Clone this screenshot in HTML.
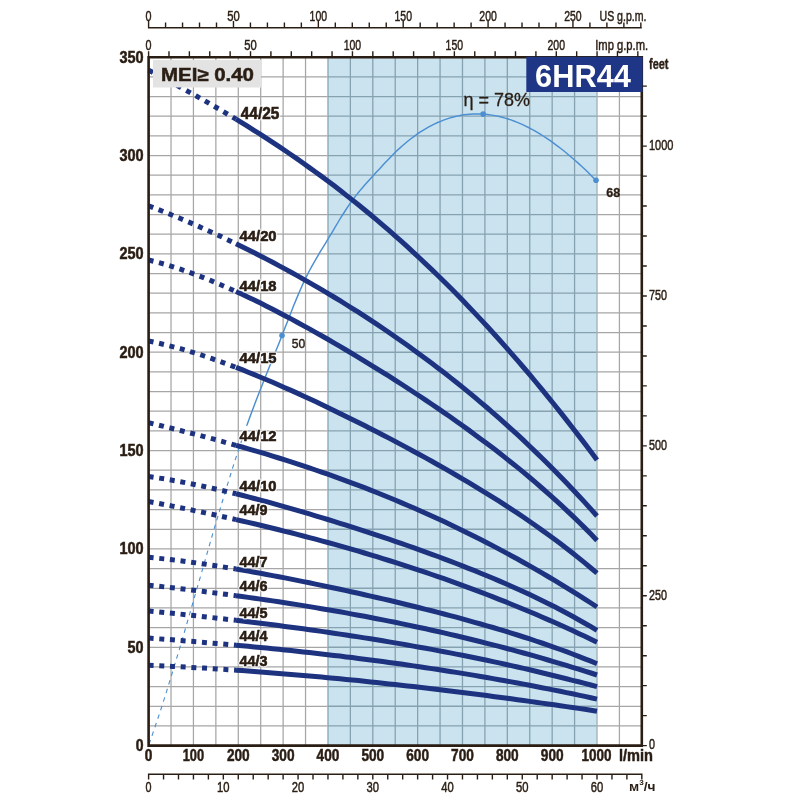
<!DOCTYPE html>
<html><head><meta charset="utf-8"><title>6HR44</title>
<style>html,body{margin:0;padding:0;background:#fff}svg{display:block}</style></head>
<body>
<svg width="800" height="800" viewBox="0 0 800 800" font-family="'Liberation Sans', sans-serif">
<rect width="800" height="800" fill="#fff"/>
<path d="M148.60 57.2V745.6M171.02 57.2V745.6M193.44 57.2V745.6M215.86 57.2V745.6M238.28 57.2V745.6M260.70 57.2V745.6M283.12 57.2V745.6M305.54 57.2V745.6M327.96 57.2V745.6M350.38 57.2V745.6M372.80 57.2V745.6M395.22 57.2V745.6M417.64 57.2V745.6M440.06 57.2V745.6M462.48 57.2V745.6M484.90 57.2V745.6M507.32 57.2V745.6M529.74 57.2V745.6M552.16 57.2V745.6M574.58 57.2V745.6M597.00 57.2V745.6M619.42 57.2V745.6M641.84 57.2V745.6M148.6 745.60H641.8M148.6 725.93H641.8M148.6 706.26H641.8M148.6 686.59H641.8M148.6 666.93H641.8M148.6 647.26H641.8M148.6 627.59H641.8M148.6 607.92H641.8M148.6 588.25H641.8M148.6 568.58H641.8M148.6 548.91H641.8M148.6 529.25H641.8M148.6 509.58H641.8M148.6 489.91H641.8M148.6 470.24H641.8M148.6 450.57H641.8M148.6 430.90H641.8M148.6 411.23H641.8M148.6 391.57H641.8M148.6 371.90H641.8M148.6 352.23H641.8M148.6 332.56H641.8M148.6 312.89H641.8M148.6 293.22H641.8M148.6 273.55H641.8M148.6 253.89H641.8M148.6 234.22H641.8M148.6 214.55H641.8M148.6 194.88H641.8M148.6 175.21H641.8M148.6 155.54H641.8M148.6 135.87H641.8M148.6 116.21H641.8M148.6 96.54H641.8M148.6 76.87H641.8M148.6 57.20H641.8" stroke="#a6a6a6" stroke-width="1.25" fill="none"/>
<clipPath id="bc"><rect x="327.6" y="57.2" width="269.0" height="688.4"/></clipPath>
<rect x="327.6" y="57.2" width="269.0" height="688.4" fill="#cae3ef"/>
<path d="M148.60 57.2V745.6M171.02 57.2V745.6M193.44 57.2V745.6M215.86 57.2V745.6M238.28 57.2V745.6M260.70 57.2V745.6M283.12 57.2V745.6M305.54 57.2V745.6M327.96 57.2V745.6M350.38 57.2V745.6M372.80 57.2V745.6M395.22 57.2V745.6M417.64 57.2V745.6M440.06 57.2V745.6M462.48 57.2V745.6M484.90 57.2V745.6M507.32 57.2V745.6M529.74 57.2V745.6M552.16 57.2V745.6M574.58 57.2V745.6M597.00 57.2V745.6M619.42 57.2V745.6M641.84 57.2V745.6M148.6 745.60H641.8M148.6 725.93H641.8M148.6 706.26H641.8M148.6 686.59H641.8M148.6 666.93H641.8M148.6 647.26H641.8M148.6 627.59H641.8M148.6 607.92H641.8M148.6 588.25H641.8M148.6 568.58H641.8M148.6 548.91H641.8M148.6 529.25H641.8M148.6 509.58H641.8M148.6 489.91H641.8M148.6 470.24H641.8M148.6 450.57H641.8M148.6 430.90H641.8M148.6 411.23H641.8M148.6 391.57H641.8M148.6 371.90H641.8M148.6 352.23H641.8M148.6 332.56H641.8M148.6 312.89H641.8M148.6 293.22H641.8M148.6 273.55H641.8M148.6 253.89H641.8M148.6 234.22H641.8M148.6 214.55H641.8M148.6 194.88H641.8M148.6 175.21H641.8M148.6 155.54H641.8M148.6 135.87H641.8M148.6 116.21H641.8M148.6 96.54H641.8M148.6 76.87H641.8M148.6 57.20H641.8" stroke="#86a2b1" stroke-width="1.3" fill="none" clip-path="url(#bc)"/>
<path d="M149.0 744.3 L151.5 737.2 L154.0 729.9 L156.5 722.5 L159.1 714.9 L161.6 707.2 L164.1 699.3 L166.6 691.3 L169.1 683.2 L171.6 675.0 L174.1 666.7 L176.6 658.4 L179.2 649.9 L181.7 641.4 L184.2 632.8 L186.7 624.2 L189.2 615.5 L191.7 606.8 L194.2 598.1 L196.7 589.3 L199.3 580.5 L201.8 571.8 L204.3 563.1 L206.8 554.3 L209.3 545.7 L211.8 537.0 L214.3 528.4 L216.8 519.9 L219.4 511.4 L221.9 503.0 L224.4 494.7 L226.9 486.4 L229.4 478.3 L231.9 470.3 L234.4 462.4 L236.9 454.6 L239.5 447.0 L242.0 439.5 L244.5 432.2 L247.0 425.0" stroke="#4b8fd2" stroke-width="1.1" stroke-dasharray="4.5 4.5" fill="none"/>
<path d="M247.0 425.0 L249.9 416.9 L252.9 409.0 L255.8 401.2 L258.7 393.7 L261.7 386.2 L264.6 378.8 L267.5 371.5 L270.5 364.3 L273.4 357.0 L276.3 349.8 L279.3 342.4 L282.2 335.0 L285.1 327.5 L288.1 320.0 L291.0 312.5 L293.9 305.1 L296.9 297.9 L299.8 291.0 L302.7 284.4 L305.7 278.1 L308.6 272.3 L311.5 266.8 L314.5 261.6 L317.4 256.6 L320.3 251.7 L323.3 246.9 L326.2 242.1 L329.1 237.2 L332.1 232.3 L335.0 227.4 L337.9 222.5 L340.8 217.7 L343.8 213.0 L346.7 208.5 L349.6 204.1 L352.6 200.0 L355.5 196.1 L358.4 192.5 L361.4 188.9 L364.3 185.6 L367.2 182.3 L370.2 179.0 L373.1 175.8 L376.0 172.6 L379.0 169.4 L381.9 166.2 L384.8 163.1 L387.8 160.0 L390.7 156.9 L393.6 154.0 L396.6 151.1 L399.5 148.4 L402.4 145.7 L405.4 143.2 L408.3 140.8 L411.2 138.5 L414.2 136.3 L417.1 134.2 L420.0 132.2 L423.0 130.3 L425.9 128.6 L428.8 126.9 L431.8 125.3 L434.7 123.9 L437.6 122.5 L440.6 121.3 L443.5 120.1 L446.4 119.1 L449.4 118.1 L452.3 117.3 L455.2 116.5 L458.2 115.9 L461.1 115.3 L464.0 114.8 L467.0 114.5 L469.9 114.2 L472.8 114.0 L475.8 113.9 L478.7 113.9 L481.6 114.0 L484.6 114.2 L487.5 114.5 L490.4 114.9 L493.4 115.4 L496.3 115.9 L499.2 116.5 L502.2 117.3 L505.1 118.1 L508.0 119.0 L510.9 119.9 L513.9 121.0 L516.8 122.2 L519.7 123.4 L522.7 124.7 L525.6 126.1 L528.5 127.5 L531.5 129.1 L534.4 130.7 L537.3 132.4 L540.3 134.2 L543.2 136.0 L546.1 137.9 L549.1 139.9 L552.0 141.9 L554.9 144.1 L557.9 146.3 L560.8 148.5 L563.7 150.8 L566.7 153.2 L569.6 155.7 L572.5 158.2 L575.5 160.7 L578.4 163.4 L581.3 166.0 L584.3 168.8 L587.2 171.6 L590.1 174.5 L593.1 177.4 L596.0 180.3" stroke="#4b8fd2" stroke-width="1.45" fill="none"/>
<circle cx="282" cy="335.5" r="2.8" fill="#4b8fd2"/>
<circle cx="483.1" cy="114.1" r="2.8" fill="#4b8fd2"/>
<circle cx="596" cy="180.3" r="2.8" fill="#4b8fd2"/>
<path d="M148.6 70.1 L156.5 74.3 L164.5 78.5 L172.4 82.8 L180.4 87.2 L188.3 91.6 L196.3 96.0 L204.2 100.5 L212.1 105.1 L220.1 109.7 L228.0 114.4 L236.0 119.2" stroke="#1e3380" stroke-width="5" stroke-dasharray="5 5.7" fill="none"/>
<path d="M236.0 119.2 L242.1 122.9 L248.2 126.7 L254.3 130.6 L260.5 134.4 L266.6 138.4 L272.7 142.4 L278.8 146.4 L284.9 150.5 L291.1 154.7 L297.2 158.9 L303.3 163.2 L309.4 167.6 L315.5 172.0 L321.6 176.4 L327.8 181.0 L333.9 185.6 L340.0 190.3 L346.1 195.1 L352.2 199.9 L358.4 204.8 L364.5 209.8 L370.6 214.8 L376.7 219.9 L382.8 225.1 L389.0 230.4 L395.1 235.8 L401.2 241.2 L407.3 246.7 L413.4 252.3 L419.5 258.0 L425.7 263.8 L431.8 269.6 L437.9 275.5 L444.0 281.5 L450.1 287.6 L456.3 293.8 L462.4 300.1 L468.5 306.4 L474.6 312.9 L480.7 319.4 L486.9 326.0 L493.0 332.7 L499.1 339.5 L505.2 346.3 L511.3 353.3 L517.5 360.4 L523.6 367.5 L529.7 374.7 L535.8 382.0 L541.9 389.4 L548.0 396.9 L554.2 404.5 L560.3 412.1 L566.4 419.9 L572.5 427.7 L578.6 435.6 L584.8 443.6 L590.9 451.7 L597.0 459.9" stroke="#1e3380" stroke-width="5" fill="none"/>
<path d="M148.6 205.8 L156.5 208.9 L164.5 212.0 L172.4 215.2 L180.4 218.5 L188.3 221.9 L196.3 225.3 L204.2 228.9 L212.1 232.5 L220.1 236.1 L228.0 239.9 L236.0 243.7" stroke="#1e3380" stroke-width="5" stroke-dasharray="5 5.7" fill="none"/>
<path d="M236.0 243.7 L242.1 246.7 L248.2 249.7 L254.3 252.8 L260.5 255.9 L266.6 259.1 L272.7 262.3 L278.8 265.6 L284.9 268.9 L291.1 272.2 L297.2 275.6 L303.3 279.1 L309.4 282.6 L315.5 286.1 L321.6 289.7 L327.8 293.3 L333.9 297.0 L340.0 300.7 L346.1 304.5 L352.2 308.4 L358.4 312.2 L364.5 316.2 L370.6 320.2 L376.7 324.2 L382.8 328.3 L389.0 332.5 L395.1 336.7 L401.2 341.0 L407.3 345.3 L413.4 349.7 L419.5 354.2 L425.7 358.7 L431.8 363.2 L437.9 367.9 L444.0 372.6 L450.1 377.4 L456.3 382.2 L462.4 387.1 L468.5 392.1 L474.6 397.2 L480.7 402.3 L486.9 407.5 L493.0 412.8 L499.1 418.2 L505.2 423.6 L511.3 429.1 L517.5 434.7 L523.6 440.4 L529.7 446.2 L535.8 452.1 L541.9 458.0 L548.0 464.1 L554.2 470.2 L560.3 476.5 L566.4 482.8 L572.5 489.2 L578.6 495.8 L584.8 502.4 L590.9 509.2 L597.0 516.0" stroke="#1e3380" stroke-width="5" fill="none"/>
<path d="M148.6 260.0 L156.5 262.0 L164.5 264.2 L172.4 266.6 L180.4 269.2 L188.3 272.0 L196.3 274.9 L204.2 277.9 L212.1 281.1 L220.1 284.5 L228.0 287.9 L236.0 291.5" stroke="#1e3380" stroke-width="5" stroke-dasharray="5 5.7" fill="none"/>
<path d="M236.0 291.5 L242.1 294.3 L248.2 297.2 L254.3 300.1 L260.5 303.1 L266.6 306.2 L272.7 309.3 L278.8 312.5 L284.9 315.7 L291.1 318.9 L297.2 322.2 L303.3 325.6 L309.4 328.9 L315.5 332.4 L321.6 335.8 L327.8 339.3 L333.9 342.8 L340.0 346.4 L346.1 350.0 L352.2 353.7 L358.4 357.3 L364.5 361.1 L370.6 364.8 L376.7 368.6 L382.8 372.4 L389.0 376.2 L395.1 380.1 L401.2 384.0 L407.3 388.0 L413.4 392.0 L419.5 396.0 L425.7 400.1 L431.8 404.2 L437.9 408.4 L444.0 412.6 L450.1 416.8 L456.3 421.2 L462.4 425.5 L468.5 429.9 L474.6 434.4 L480.7 438.9 L486.9 443.5 L493.0 448.1 L499.1 452.8 L505.2 457.6 L511.3 462.5 L517.5 467.4 L523.6 472.4 L529.7 477.5 L535.8 482.7 L541.9 488.0 L548.0 493.4 L554.2 498.8 L560.3 504.4 L566.4 510.1 L572.5 515.9 L578.6 521.8 L584.8 527.9 L590.9 534.1 L597.0 540.4" stroke="#1e3380" stroke-width="5" fill="none"/>
<path d="M148.6 341.0 L156.5 342.7 L164.5 344.6 L172.4 346.6 L180.4 348.7 L188.3 351.0 L196.3 353.4 L204.2 356.0 L212.1 358.7 L220.1 361.5 L228.0 364.4 L236.0 367.4" stroke="#1e3380" stroke-width="5" stroke-dasharray="5 5.7" fill="none"/>
<path d="M236.0 367.4 L242.1 369.7 L248.2 372.2 L254.3 374.6 L260.5 377.2 L266.6 379.7 L272.7 382.3 L278.8 385.0 L284.9 387.7 L291.1 390.4 L297.2 393.1 L303.3 395.9 L309.4 398.8 L315.5 401.6 L321.6 404.5 L327.8 407.4 L333.9 410.4 L340.0 413.4 L346.1 416.4 L352.2 419.4 L358.4 422.5 L364.5 425.5 L370.6 428.7 L376.7 431.8 L382.8 434.9 L389.0 438.1 L395.1 441.4 L401.2 444.6 L407.3 447.9 L413.4 451.2 L419.5 454.5 L425.7 457.9 L431.8 461.3 L437.9 464.7 L444.0 468.2 L450.1 471.7 L456.3 475.2 L462.4 478.8 L468.5 482.4 L474.6 486.1 L480.7 489.8 L486.9 493.6 L493.0 497.4 L499.1 501.2 L505.2 505.2 L511.3 509.2 L517.5 513.2 L523.6 517.3 L529.7 521.5 L535.8 525.8 L541.9 530.1 L548.0 534.5 L554.2 539.0 L560.3 543.6 L566.4 548.3 L572.5 553.0 L578.6 557.9 L584.8 562.9 L590.9 568.0 L597.0 573.2" stroke="#1e3380" stroke-width="5" fill="none"/>
<path d="M148.6 422.7 L156.5 424.6 L164.5 426.6 L172.4 428.5 L180.4 430.5 L188.3 432.5 L196.3 434.5 L204.2 436.6 L212.1 438.7 L220.1 440.9 L228.0 443.1 L236.0 445.3" stroke="#1e3380" stroke-width="5" stroke-dasharray="5 5.7" fill="none"/>
<path d="M236.0 445.3 L242.1 447.0 L248.2 448.8 L254.3 450.6 L260.5 452.4 L266.6 454.2 L272.7 456.1 L278.8 458.0 L284.9 459.9 L291.1 461.9 L297.2 463.8 L303.3 465.9 L309.4 467.9 L315.5 470.0 L321.6 472.1 L327.8 474.2 L333.9 476.4 L340.0 478.6 L346.1 480.8 L352.2 483.1 L358.4 485.4 L364.5 487.7 L370.6 490.1 L376.7 492.5 L382.8 495.0 L389.0 497.5 L395.1 500.0 L401.2 502.6 L407.3 505.2 L413.4 507.8 L419.5 510.5 L425.7 513.2 L431.8 516.0 L437.9 518.8 L444.0 521.6 L450.1 524.5 L456.3 527.4 L462.4 530.4 L468.5 533.4 L474.6 536.5 L480.7 539.5 L486.9 542.7 L493.0 545.9 L499.1 549.1 L505.2 552.4 L511.3 555.7 L517.5 559.0 L523.6 562.5 L529.7 565.9 L535.8 569.4 L541.9 572.9 L548.0 576.5 L554.2 580.2 L560.3 583.9 L566.4 587.6 L572.5 591.4 L578.6 595.2 L584.8 599.1 L590.9 603.0 L597.0 607.0" stroke="#1e3380" stroke-width="5" fill="none"/>
<path d="M148.6 476.6 L156.5 477.7 L164.5 478.9 L172.4 480.3 L180.4 481.7 L188.3 483.2 L196.3 484.8 L204.2 486.5 L212.1 488.2 L220.1 490.0 L228.0 491.9 L236.0 493.8" stroke="#1e3380" stroke-width="5" stroke-dasharray="5 5.7" fill="none"/>
<path d="M236.0 493.8 L242.1 495.3 L248.2 496.9 L254.3 498.5 L260.5 500.1 L266.6 501.7 L272.7 503.4 L278.8 505.1 L284.9 506.8 L291.1 508.6 L297.2 510.3 L303.3 512.1 L309.4 513.9 L315.5 515.8 L321.6 517.6 L327.8 519.5 L333.9 521.4 L340.0 523.3 L346.1 525.2 L352.2 527.2 L358.4 529.1 L364.5 531.1 L370.6 533.1 L376.7 535.1 L382.8 537.2 L389.0 539.2 L395.1 541.3 L401.2 543.4 L407.3 545.5 L413.4 547.7 L419.5 549.9 L425.7 552.1 L431.8 554.3 L437.9 556.5 L444.0 558.8 L450.1 561.1 L456.3 563.5 L462.4 565.9 L468.5 568.3 L474.6 570.7 L480.7 573.2 L486.9 575.7 L493.0 578.3 L499.1 580.9 L505.2 583.5 L511.3 586.2 L517.5 589.0 L523.6 591.8 L529.7 594.6 L535.8 597.5 L541.9 600.5 L548.0 603.5 L554.2 606.6 L560.3 609.8 L566.4 613.0 L572.5 616.3 L578.6 619.7 L584.8 623.2 L590.9 626.7 L597.0 630.4" stroke="#1e3380" stroke-width="5" fill="none"/>
<path d="M148.6 501.5 L156.5 503.0 L164.5 504.6 L172.4 506.1 L180.4 507.7 L188.3 509.3 L196.3 511.0 L204.2 512.6 L212.1 514.3 L220.1 516.1 L228.0 517.8 L236.0 519.6" stroke="#1e3380" stroke-width="5" stroke-dasharray="5 5.7" fill="none"/>
<path d="M236.0 519.6 L242.1 521.0 L248.2 522.4 L254.3 523.8 L260.5 525.3 L266.6 526.8 L272.7 528.2 L278.8 529.7 L284.9 531.3 L291.1 532.8 L297.2 534.4 L303.3 536.0 L309.4 537.6 L315.5 539.2 L321.6 540.8 L327.8 542.5 L333.9 544.2 L340.0 545.9 L346.1 547.7 L352.2 549.4 L358.4 551.2 L364.5 553.0 L370.6 554.8 L376.7 556.7 L382.8 558.6 L389.0 560.5 L395.1 562.4 L401.2 564.3 L407.3 566.3 L413.4 568.3 L419.5 570.3 L425.7 572.4 L431.8 574.5 L437.9 576.6 L444.0 578.7 L450.1 580.9 L456.3 583.1 L462.4 585.3 L468.5 587.6 L474.6 589.8 L480.7 592.1 L486.9 594.5 L493.0 596.9 L499.1 599.3 L505.2 601.7 L511.3 604.2 L517.5 606.7 L523.6 609.2 L529.7 611.7 L535.8 614.3 L541.9 617.0 L548.0 619.6 L554.2 622.3 L560.3 625.1 L566.4 627.8 L572.5 630.6 L578.6 633.5 L584.8 636.3 L590.9 639.3 L597.0 642.2" stroke="#1e3380" stroke-width="5" fill="none"/>
<path d="M148.6 557.3 L156.5 558.1 L164.5 558.9 L172.4 559.8 L180.4 560.8 L188.3 561.8 L196.3 562.9 L204.2 564.0 L212.1 565.2 L220.1 566.4 L228.0 567.7 L236.0 569.0" stroke="#1e3380" stroke-width="5" stroke-dasharray="5 5.7" fill="none"/>
<path d="M236.0 569.0 L242.1 570.1 L248.2 571.1 L254.3 572.2 L260.5 573.3 L266.6 574.5 L272.7 575.6 L278.8 576.8 L284.9 577.9 L291.1 579.1 L297.2 580.4 L303.3 581.6 L309.4 582.8 L315.5 584.1 L321.6 585.4 L327.8 586.7 L333.9 588.0 L340.0 589.3 L346.1 590.6 L352.2 592.0 L358.4 593.3 L364.5 594.7 L370.6 596.1 L376.7 597.5 L382.8 598.9 L389.0 600.3 L395.1 601.8 L401.2 603.2 L407.3 604.7 L413.4 606.2 L419.5 607.7 L425.7 609.3 L431.8 610.8 L437.9 612.4 L444.0 614.0 L450.1 615.6 L456.3 617.2 L462.4 618.9 L468.5 620.6 L474.6 622.3 L480.7 624.0 L486.9 625.8 L493.0 627.5 L499.1 629.4 L505.2 631.2 L511.3 633.1 L517.5 635.0 L523.6 637.0 L529.7 638.9 L535.8 641.0 L541.9 643.0 L548.0 645.1 L554.2 647.3 L560.3 649.5 L566.4 651.7 L572.5 654.0 L578.6 656.4 L584.8 658.8 L590.9 661.2 L597.0 663.7" stroke="#1e3380" stroke-width="5" fill="none"/>
<path d="M148.6 585.2 L156.5 586.0 L164.5 586.9 L172.4 587.8 L180.4 588.7 L188.3 589.6 L196.3 590.6 L204.2 591.6 L212.1 592.6 L220.1 593.6 L228.0 594.6 L236.0 595.7" stroke="#1e3380" stroke-width="5" stroke-dasharray="5 5.7" fill="none"/>
<path d="M236.0 595.7 L242.1 596.5 L248.2 597.4 L254.3 598.2 L260.5 599.1 L266.6 600.0 L272.7 600.9 L278.8 601.8 L284.9 602.7 L291.1 603.7 L297.2 604.6 L303.3 605.6 L309.4 606.6 L315.5 607.6 L321.6 608.7 L327.8 609.7 L333.9 610.8 L340.0 611.8 L346.1 612.9 L352.2 614.1 L358.4 615.2 L364.5 616.3 L370.6 617.5 L376.7 618.7 L382.8 619.9 L389.0 621.1 L395.1 622.3 L401.2 623.6 L407.3 624.9 L413.4 626.2 L419.5 627.5 L425.7 628.8 L431.8 630.2 L437.9 631.5 L444.0 632.9 L450.1 634.4 L456.3 635.8 L462.4 637.2 L468.5 638.7 L474.6 640.2 L480.7 641.7 L486.9 643.3 L493.0 644.9 L499.1 646.4 L505.2 648.0 L511.3 649.7 L517.5 651.3 L523.6 653.0 L529.7 654.7 L535.8 656.4 L541.9 658.2 L548.0 660.0 L554.2 661.8 L560.3 663.6 L566.4 665.4 L572.5 667.3 L578.6 669.2 L584.8 671.1 L590.9 673.0 L597.0 675.0" stroke="#1e3380" stroke-width="5" fill="none"/>
<path d="M148.6 610.9 L156.5 611.7 L164.5 612.5 L172.4 613.3 L180.4 614.1 L188.3 615.0 L196.3 615.8 L204.2 616.7 L212.1 617.6 L220.1 618.5 L228.0 619.4 L236.0 620.3" stroke="#1e3380" stroke-width="5" stroke-dasharray="5 5.7" fill="none"/>
<path d="M236.0 620.3 L242.1 621.0 L248.2 621.8 L254.3 622.5 L260.5 623.3 L266.6 624.0 L272.7 624.8 L278.8 625.6 L284.9 626.4 L291.1 627.2 L297.2 628.0 L303.3 628.8 L309.4 629.7 L315.5 630.5 L321.6 631.4 L327.8 632.3 L333.9 633.2 L340.0 634.1 L346.1 635.0 L352.2 636.0 L358.4 636.9 L364.5 637.9 L370.6 638.8 L376.7 639.8 L382.8 640.8 L389.0 641.9 L395.1 642.9 L401.2 643.9 L407.3 645.0 L413.4 646.1 L419.5 647.2 L425.7 648.3 L431.8 649.4 L437.9 650.6 L444.0 651.7 L450.1 652.9 L456.3 654.1 L462.4 655.3 L468.5 656.5 L474.6 657.8 L480.7 659.0 L486.9 660.3 L493.0 661.6 L499.1 662.9 L505.2 664.3 L511.3 665.6 L517.5 667.0 L523.6 668.4 L529.7 669.8 L535.8 671.2 L541.9 672.7 L548.0 674.2 L554.2 675.7 L560.3 677.2 L566.4 678.7 L572.5 680.3 L578.6 681.8 L584.8 683.4 L590.9 685.0 L597.0 686.7" stroke="#1e3380" stroke-width="5" fill="none"/>
<path d="M148.6 638.1 L156.5 638.7 L164.5 639.2 L172.4 639.8 L180.4 640.5 L188.3 641.1 L196.3 641.7 L204.2 642.4 L212.1 643.1 L220.1 643.7 L228.0 644.4 L236.0 645.2" stroke="#1e3380" stroke-width="5" stroke-dasharray="5 5.7" fill="none"/>
<path d="M236.0 645.2 L242.1 645.7 L248.2 646.3 L254.3 646.9 L260.5 647.5 L266.6 648.1 L272.7 648.7 L278.8 649.3 L284.9 649.9 L291.1 650.6 L297.2 651.2 L303.3 651.9 L309.4 652.6 L315.5 653.3 L321.6 654.0 L327.8 654.7 L333.9 655.4 L340.0 656.1 L346.1 656.9 L352.2 657.6 L358.4 658.4 L364.5 659.2 L370.6 660.0 L376.7 660.8 L382.8 661.6 L389.0 662.4 L395.1 663.3 L401.2 664.1 L407.3 665.0 L413.4 665.9 L419.5 666.8 L425.7 667.7 L431.8 668.6 L437.9 669.5 L444.0 670.5 L450.1 671.5 L456.3 672.4 L462.4 673.4 L468.5 674.4 L474.6 675.4 L480.7 676.5 L486.9 677.5 L493.0 678.6 L499.1 679.7 L505.2 680.8 L511.3 681.9 L517.5 683.0 L523.6 684.1 L529.7 685.3 L535.8 686.5 L541.9 687.7 L548.0 688.9 L554.2 690.1 L560.3 691.3 L566.4 692.6 L572.5 693.8 L578.6 695.1 L584.8 696.4 L590.9 697.7 L597.0 699.1" stroke="#1e3380" stroke-width="5" fill="none"/>
<path d="M148.6 665.3 L156.5 665.6 L164.5 666.0 L172.4 666.4 L180.4 666.8 L188.3 667.2 L196.3 667.7 L204.2 668.1 L212.1 668.6 L220.1 669.1 L228.0 669.7 L236.0 670.2" stroke="#1e3380" stroke-width="5" stroke-dasharray="5 5.7" fill="none"/>
<path d="M236.0 670.2 L242.1 670.6 L248.2 671.1 L254.3 671.5 L260.5 672.0 L266.6 672.4 L272.7 672.9 L278.8 673.4 L284.9 673.9 L291.1 674.4 L297.2 674.9 L303.3 675.5 L309.4 676.0 L315.5 676.5 L321.6 677.1 L327.8 677.7 L333.9 678.2 L340.0 678.8 L346.1 679.4 L352.2 680.0 L358.4 680.6 L364.5 681.3 L370.6 681.9 L376.7 682.5 L382.8 683.2 L389.0 683.9 L395.1 684.5 L401.2 685.2 L407.3 685.9 L413.4 686.6 L419.5 687.3 L425.7 688.0 L431.8 688.7 L437.9 689.4 L444.0 690.2 L450.1 690.9 L456.3 691.7 L462.4 692.4 L468.5 693.2 L474.6 694.0 L480.7 694.8 L486.9 695.6 L493.0 696.4 L499.1 697.2 L505.2 698.0 L511.3 698.8 L517.5 699.7 L523.6 700.5 L529.7 701.4 L535.8 702.2 L541.9 703.1 L548.0 703.9 L554.2 704.8 L560.3 705.7 L566.4 706.6 L572.5 707.5 L578.6 708.4 L584.8 709.3 L590.9 710.2 L597.0 711.2" stroke="#1e3380" stroke-width="5" fill="none"/>
<path d="M148.6 57.2V745.6H641.8V57.2Z" stroke="#2a1e14" stroke-width="2.6" fill="none"/>
<rect x="153" y="60" width="108" height="27.5" fill="#e3e3e3"/>
<text x="161" y="81.3" font-size="18.5" font-weight="bold" fill="#2a1e14" stroke="#2a1e14" stroke-width="0.5" textLength="93" lengthAdjust="spacingAndGlyphs">MEI≥ 0.40</text>
<rect x="526.3" y="56.8" width="116.3" height="35.2" fill="#1f3585"/>
<text x="535" y="86.8" font-size="31.6" font-weight="bold" fill="#fff" textLength="96" lengthAdjust="spacingAndGlyphs">6HR44</text>
<text x="240.8" y="118.8" font-size="16" font-weight="bold" text-anchor="start" fill="#2a1e14" textLength="38.5" lengthAdjust="spacingAndGlyphs" stroke="#fff" stroke-width="3" stroke-opacity="0.75" stroke-linejoin="round">44/25</text>
<text x="240.8" y="118.8" font-size="16" font-weight="bold" text-anchor="start" fill="#2a1e14" textLength="38.5" lengthAdjust="spacingAndGlyphs" stroke="#2a1e14" stroke-width="0.6">44/25</text>
<text x="239.6" y="241.3" font-size="15.3" font-weight="bold" text-anchor="start" fill="#2a1e14" textLength="37" lengthAdjust="spacingAndGlyphs" stroke="#fff" stroke-width="3" stroke-opacity="0.75" stroke-linejoin="round">44/20</text>
<text x="239.6" y="241.3" font-size="15.3" font-weight="bold" text-anchor="start" fill="#2a1e14" textLength="37" lengthAdjust="spacingAndGlyphs" stroke="#2a1e14" stroke-width="0.6">44/20</text>
<text x="239.6" y="291.0" font-size="15.3" font-weight="bold" text-anchor="start" fill="#2a1e14" textLength="37" lengthAdjust="spacingAndGlyphs" stroke="#fff" stroke-width="3" stroke-opacity="0.75" stroke-linejoin="round">44/18</text>
<text x="239.6" y="291.0" font-size="15.3" font-weight="bold" text-anchor="start" fill="#2a1e14" textLength="37" lengthAdjust="spacingAndGlyphs" stroke="#2a1e14" stroke-width="0.6">44/18</text>
<text x="239.6" y="363.0" font-size="15.3" font-weight="bold" text-anchor="start" fill="#2a1e14" textLength="37" lengthAdjust="spacingAndGlyphs" stroke="#fff" stroke-width="3" stroke-opacity="0.75" stroke-linejoin="round">44/15</text>
<text x="239.6" y="363.0" font-size="15.3" font-weight="bold" text-anchor="start" fill="#2a1e14" textLength="37" lengthAdjust="spacingAndGlyphs" stroke="#2a1e14" stroke-width="0.6">44/15</text>
<text x="239.6" y="440.5" font-size="15.3" font-weight="bold" text-anchor="start" fill="#2a1e14" textLength="37" lengthAdjust="spacingAndGlyphs" stroke="#fff" stroke-width="3" stroke-opacity="0.75" stroke-linejoin="round">44/12</text>
<text x="239.6" y="440.5" font-size="15.3" font-weight="bold" text-anchor="start" fill="#2a1e14" textLength="37" lengthAdjust="spacingAndGlyphs" stroke="#2a1e14" stroke-width="0.6">44/12</text>
<text x="239.6" y="490.8" font-size="15.3" font-weight="bold" text-anchor="start" fill="#2a1e14" textLength="37" lengthAdjust="spacingAndGlyphs" stroke="#fff" stroke-width="3" stroke-opacity="0.75" stroke-linejoin="round">44/10</text>
<text x="239.6" y="490.8" font-size="15.3" font-weight="bold" text-anchor="start" fill="#2a1e14" textLength="37" lengthAdjust="spacingAndGlyphs" stroke="#2a1e14" stroke-width="0.6">44/10</text>
<text x="239.6" y="515.0" font-size="15.3" font-weight="bold" text-anchor="start" fill="#2a1e14" textLength="28" lengthAdjust="spacingAndGlyphs" stroke="#fff" stroke-width="3" stroke-opacity="0.75" stroke-linejoin="round">44/9</text>
<text x="239.6" y="515.0" font-size="15.3" font-weight="bold" text-anchor="start" fill="#2a1e14" textLength="28" lengthAdjust="spacingAndGlyphs" stroke="#2a1e14" stroke-width="0.6">44/9</text>
<text x="239.6" y="567.0" font-size="15.3" font-weight="bold" text-anchor="start" fill="#2a1e14" textLength="28" lengthAdjust="spacingAndGlyphs" stroke="#fff" stroke-width="3" stroke-opacity="0.75" stroke-linejoin="round">44/7</text>
<text x="239.6" y="567.0" font-size="15.3" font-weight="bold" text-anchor="start" fill="#2a1e14" textLength="28" lengthAdjust="spacingAndGlyphs" stroke="#2a1e14" stroke-width="0.6">44/7</text>
<text x="239.6" y="591.2" font-size="15.3" font-weight="bold" text-anchor="start" fill="#2a1e14" textLength="28" lengthAdjust="spacingAndGlyphs" stroke="#fff" stroke-width="3" stroke-opacity="0.75" stroke-linejoin="round">44/6</text>
<text x="239.6" y="591.2" font-size="15.3" font-weight="bold" text-anchor="start" fill="#2a1e14" textLength="28" lengthAdjust="spacingAndGlyphs" stroke="#2a1e14" stroke-width="0.6">44/6</text>
<text x="239.6" y="617.5" font-size="15.3" font-weight="bold" text-anchor="start" fill="#2a1e14" textLength="28" lengthAdjust="spacingAndGlyphs" stroke="#fff" stroke-width="3" stroke-opacity="0.75" stroke-linejoin="round">44/5</text>
<text x="239.6" y="617.5" font-size="15.3" font-weight="bold" text-anchor="start" fill="#2a1e14" textLength="28" lengthAdjust="spacingAndGlyphs" stroke="#2a1e14" stroke-width="0.6">44/5</text>
<text x="239.6" y="640.8" font-size="15.3" font-weight="bold" text-anchor="start" fill="#2a1e14" textLength="28" lengthAdjust="spacingAndGlyphs" stroke="#fff" stroke-width="3" stroke-opacity="0.75" stroke-linejoin="round">44/4</text>
<text x="239.6" y="640.8" font-size="15.3" font-weight="bold" text-anchor="start" fill="#2a1e14" textLength="28" lengthAdjust="spacingAndGlyphs" stroke="#2a1e14" stroke-width="0.6">44/4</text>
<text x="239.6" y="665.5" font-size="15.3" font-weight="bold" text-anchor="start" fill="#2a1e14" textLength="28" lengthAdjust="spacingAndGlyphs" stroke="#fff" stroke-width="3" stroke-opacity="0.75" stroke-linejoin="round">44/3</text>
<text x="239.6" y="665.5" font-size="15.3" font-weight="bold" text-anchor="start" fill="#2a1e14" textLength="28" lengthAdjust="spacingAndGlyphs" stroke="#2a1e14" stroke-width="0.6">44/3</text>
<text x="135.8" y="751.1" font-size="15.6" font-weight="bold" text-anchor="start" fill="#2a1e14" textLength="7.8" lengthAdjust="spacingAndGlyphs" stroke="#2a1e14" stroke-width="0.5">0</text>
<text x="127.6" y="652.8" font-size="15.6" font-weight="bold" text-anchor="start" fill="#2a1e14" textLength="16" lengthAdjust="spacingAndGlyphs" stroke="#2a1e14" stroke-width="0.5">50</text>
<text x="119.4" y="554.4" font-size="15.6" font-weight="bold" text-anchor="start" fill="#2a1e14" textLength="24.2" lengthAdjust="spacingAndGlyphs" stroke="#2a1e14" stroke-width="0.5">100</text>
<text x="119.4" y="456.1" font-size="15.6" font-weight="bold" text-anchor="start" fill="#2a1e14" textLength="24.2" lengthAdjust="spacingAndGlyphs" stroke="#2a1e14" stroke-width="0.5">150</text>
<text x="119.4" y="357.7" font-size="15.6" font-weight="bold" text-anchor="start" fill="#2a1e14" textLength="24.2" lengthAdjust="spacingAndGlyphs" stroke="#2a1e14" stroke-width="0.5">200</text>
<text x="119.4" y="259.4" font-size="15.6" font-weight="bold" text-anchor="start" fill="#2a1e14" textLength="24.2" lengthAdjust="spacingAndGlyphs" stroke="#2a1e14" stroke-width="0.5">250</text>
<text x="119.4" y="161.0" font-size="15.6" font-weight="bold" text-anchor="start" fill="#2a1e14" textLength="24.2" lengthAdjust="spacingAndGlyphs" stroke="#2a1e14" stroke-width="0.5">300</text>
<text x="119.4" y="62.7" font-size="15.6" font-weight="bold" text-anchor="start" fill="#2a1e14" textLength="24.2" lengthAdjust="spacingAndGlyphs" stroke="#2a1e14" stroke-width="0.5">350</text>
<text x="144.8" y="761.1" font-size="15.6" font-weight="bold" text-anchor="start" fill="#2a1e14" textLength="7.6" lengthAdjust="spacingAndGlyphs" stroke="#2a1e14" stroke-width="0.5">0</text>
<text x="182.7" y="761.1" font-size="15.6" font-weight="bold" text-anchor="start" fill="#2a1e14" textLength="21.4" lengthAdjust="spacingAndGlyphs" stroke="#2a1e14" stroke-width="0.5">100</text>
<text x="226.9" y="761.1" font-size="15.6" font-weight="bold" text-anchor="start" fill="#2a1e14" textLength="22.8" lengthAdjust="spacingAndGlyphs" stroke="#2a1e14" stroke-width="0.5">200</text>
<text x="271.7" y="761.1" font-size="15.6" font-weight="bold" text-anchor="start" fill="#2a1e14" textLength="22.8" lengthAdjust="spacingAndGlyphs" stroke="#2a1e14" stroke-width="0.5">300</text>
<text x="316.6" y="761.1" font-size="15.6" font-weight="bold" text-anchor="start" fill="#2a1e14" textLength="22.8" lengthAdjust="spacingAndGlyphs" stroke="#2a1e14" stroke-width="0.5">400</text>
<text x="361.4" y="761.1" font-size="15.6" font-weight="bold" text-anchor="start" fill="#2a1e14" textLength="22.8" lengthAdjust="spacingAndGlyphs" stroke="#2a1e14" stroke-width="0.5">500</text>
<text x="406.2" y="761.1" font-size="15.6" font-weight="bold" text-anchor="start" fill="#2a1e14" textLength="22.8" lengthAdjust="spacingAndGlyphs" stroke="#2a1e14" stroke-width="0.5">600</text>
<text x="451.1" y="761.1" font-size="15.6" font-weight="bold" text-anchor="start" fill="#2a1e14" textLength="22.8" lengthAdjust="spacingAndGlyphs" stroke="#2a1e14" stroke-width="0.5">700</text>
<text x="495.9" y="761.1" font-size="15.6" font-weight="bold" text-anchor="start" fill="#2a1e14" textLength="22.8" lengthAdjust="spacingAndGlyphs" stroke="#2a1e14" stroke-width="0.5">800</text>
<text x="540.8" y="761.1" font-size="15.6" font-weight="bold" text-anchor="start" fill="#2a1e14" textLength="22.8" lengthAdjust="spacingAndGlyphs" stroke="#2a1e14" stroke-width="0.5">900</text>
<text x="581.5" y="761.1" font-size="15.6" font-weight="bold" text-anchor="start" fill="#2a1e14" textLength="30" lengthAdjust="spacingAndGlyphs" stroke="#2a1e14" stroke-width="0.5">1000</text>
<text x="619.0" y="761.1" font-size="15.6" font-weight="bold" text-anchor="start" fill="#2a1e14" textLength="34" lengthAdjust="spacingAndGlyphs" stroke="#2a1e14" stroke-width="0.5">l/min</text>
<path d="M641.8 745.60h5M641.8 715.63h5M641.8 685.65h5M641.8 655.68h5M641.8 625.70h5M641.8 595.73h5M641.8 565.75h5M641.8 535.78h5M641.8 505.80h5M641.8 475.83h5M641.8 445.85h5M641.8 415.88h5M641.8 385.90h5M641.8 355.93h5M641.8 325.95h5M641.8 295.98h5M641.8 266.00h5M641.8 236.03h5M641.8 206.05h5M641.8 176.08h5M641.8 146.10h5M641.8 116.13h5M641.8 86.15h5" stroke="#2a1e14" stroke-width="1.4" fill="none"/>
<text x="649.0" y="749.4" font-size="14.6" font-weight="normal" text-anchor="start" fill="#2a1e14" textLength="6" lengthAdjust="spacingAndGlyphs" stroke="#2a1e14" stroke-width="0.5">0</text>
<text x="649.0" y="599.5" font-size="14.6" font-weight="normal" text-anchor="start" fill="#2a1e14" textLength="18" lengthAdjust="spacingAndGlyphs" stroke="#2a1e14" stroke-width="0.5">250</text>
<text x="649.0" y="449.7" font-size="14.6" font-weight="normal" text-anchor="start" fill="#2a1e14" textLength="18" lengthAdjust="spacingAndGlyphs" stroke="#2a1e14" stroke-width="0.5">500</text>
<text x="649.0" y="299.8" font-size="14.6" font-weight="normal" text-anchor="start" fill="#2a1e14" textLength="18" lengthAdjust="spacingAndGlyphs" stroke="#2a1e14" stroke-width="0.5">750</text>
<text x="649.0" y="149.9" font-size="14.6" font-weight="normal" text-anchor="start" fill="#2a1e14" textLength="24.5" lengthAdjust="spacingAndGlyphs" stroke="#2a1e14" stroke-width="0.5">1000</text>
<text x="649.0" y="69.0" font-size="14" font-weight="bold" text-anchor="start" fill="#2a1e14" textLength="19.5" lengthAdjust="spacingAndGlyphs" stroke="#2a1e14" stroke-width="0.4">feet</text>
<path d="M148.6 27.7H641.8M148.60 28.4v-7.5M165.57 28.4v-6M182.55 28.4v-6M199.52 28.4v-6M216.50 28.4v-6M233.47 28.4v-7.5M250.44 28.4v-6M267.42 28.4v-6M284.39 28.4v-6M301.36 28.4v-6M318.34 28.4v-7.5M335.31 28.4v-6M352.29 28.4v-6M369.26 28.4v-6M386.23 28.4v-6M403.21 28.4v-7.5M420.18 28.4v-6M437.15 28.4v-6M454.13 28.4v-6M471.10 28.4v-6M488.08 28.4v-7.5M505.05 28.4v-6M522.02 28.4v-6M539.00 28.4v-6M555.97 28.4v-6M572.94 28.4v-7.5M589.92 28.4v-6M606.89 28.4v-6M623.87 28.4v-6M640.84 28.4v-6" stroke="#2a1e14" stroke-width="1.4" fill="none"/>
<text x="145.6" y="21.3" font-size="14.6" font-weight="normal" text-anchor="start" fill="#2a1e14" textLength="6" lengthAdjust="spacingAndGlyphs" stroke="#2a1e14" stroke-width="0.5">0</text>
<text x="227.2" y="21.3" font-size="14.6" font-weight="normal" text-anchor="start" fill="#2a1e14" textLength="12.5" lengthAdjust="spacingAndGlyphs" stroke="#2a1e14" stroke-width="0.5">50</text>
<text x="309.6" y="21.3" font-size="14.6" font-weight="normal" text-anchor="start" fill="#2a1e14" textLength="17.5" lengthAdjust="spacingAndGlyphs" stroke="#2a1e14" stroke-width="0.5">100</text>
<text x="394.5" y="21.3" font-size="14.6" font-weight="normal" text-anchor="start" fill="#2a1e14" textLength="17.5" lengthAdjust="spacingAndGlyphs" stroke="#2a1e14" stroke-width="0.5">150</text>
<text x="479.3" y="21.3" font-size="14.6" font-weight="normal" text-anchor="start" fill="#2a1e14" textLength="17.5" lengthAdjust="spacingAndGlyphs" stroke="#2a1e14" stroke-width="0.5">200</text>
<text x="564.2" y="21.3" font-size="14.6" font-weight="normal" text-anchor="start" fill="#2a1e14" textLength="17.5" lengthAdjust="spacingAndGlyphs" stroke="#2a1e14" stroke-width="0.5">250</text>
<text x="599.5" y="21.3" font-size="14.6" font-weight="normal" text-anchor="start" fill="#2a1e14" textLength="47" lengthAdjust="spacingAndGlyphs" stroke="#2a1e14" stroke-width="0.5">US g.p.m.</text>
<path d="M148.60 57.2v-6M168.98 57.2v-6M189.37 57.2v-6M209.75 57.2v-6M230.14 57.2v-6M250.52 57.2v-6M270.91 57.2v-6M291.29 57.2v-6M311.68 57.2v-6M332.06 57.2v-6M352.45 57.2v-6M372.83 57.2v-6M393.22 57.2v-6M413.60 57.2v-6M433.99 57.2v-6M454.37 57.2v-6M474.75 57.2v-6M495.14 57.2v-6M515.52 57.2v-6M535.91 57.2v-6M556.29 57.2v-6M576.68 57.2v-6M597.06 57.2v-6M617.45 57.2v-6M637.83 57.2v-6" stroke="#2a1e14" stroke-width="1.4" fill="none"/>
<text x="145.6" y="49.8" font-size="14.6" font-weight="normal" text-anchor="start" fill="#2a1e14" textLength="6" lengthAdjust="spacingAndGlyphs" stroke="#2a1e14" stroke-width="0.5">0</text>
<text x="244.3" y="49.8" font-size="14.6" font-weight="normal" text-anchor="start" fill="#2a1e14" textLength="12.5" lengthAdjust="spacingAndGlyphs" stroke="#2a1e14" stroke-width="0.5">50</text>
<text x="343.7" y="49.8" font-size="14.6" font-weight="normal" text-anchor="start" fill="#2a1e14" textLength="17.5" lengthAdjust="spacingAndGlyphs" stroke="#2a1e14" stroke-width="0.5">100</text>
<text x="445.6" y="49.8" font-size="14.6" font-weight="normal" text-anchor="start" fill="#2a1e14" textLength="17.5" lengthAdjust="spacingAndGlyphs" stroke="#2a1e14" stroke-width="0.5">150</text>
<text x="547.5" y="49.8" font-size="14.6" font-weight="normal" text-anchor="start" fill="#2a1e14" textLength="17.5" lengthAdjust="spacingAndGlyphs" stroke="#2a1e14" stroke-width="0.5">200</text>
<text x="595.2" y="49.8" font-size="14.6" font-weight="normal" text-anchor="start" fill="#2a1e14" textLength="53" lengthAdjust="spacingAndGlyphs" stroke="#2a1e14" stroke-width="0.5">Imp g.p.m.</text>
<path d="M148.6 774.3H641.8M148.60 773.5999999999999v6M163.55 773.5999999999999v6M178.49 773.5999999999999v6M193.44 773.5999999999999v6M208.39 773.5999999999999v6M223.33 773.5999999999999v6M238.28 773.5999999999999v6M253.23 773.5999999999999v6M268.17 773.5999999999999v6M283.12 773.5999999999999v6M298.07 773.5999999999999v6M313.01 773.5999999999999v6M327.96 773.5999999999999v6M342.91 773.5999999999999v6M357.85 773.5999999999999v6M372.80 773.5999999999999v6M387.75 773.5999999999999v6M402.69 773.5999999999999v6M417.64 773.5999999999999v6M432.59 773.5999999999999v6M447.53 773.5999999999999v6M462.48 773.5999999999999v6M477.43 773.5999999999999v6M492.37 773.5999999999999v6M507.32 773.5999999999999v6M522.27 773.5999999999999v6M537.21 773.5999999999999v6M552.16 773.5999999999999v6M567.11 773.5999999999999v6M582.05 773.5999999999999v6M597.00 773.5999999999999v6M611.95 773.5999999999999v6M626.89 773.5999999999999v6M641.84 773.5999999999999v6M641.8 773.5999999999999v6" stroke="#2a1e14" stroke-width="1.4" fill="none"/>
<text x="145.6" y="792.0" font-size="14.6" font-weight="normal" text-anchor="start" fill="#2a1e14" textLength="6" lengthAdjust="spacingAndGlyphs" stroke="#2a1e14" stroke-width="0.5">0</text>
<text x="217.1" y="792.0" font-size="14.6" font-weight="normal" text-anchor="start" fill="#2a1e14" textLength="12.5" lengthAdjust="spacingAndGlyphs" stroke="#2a1e14" stroke-width="0.5">10</text>
<text x="291.8" y="792.0" font-size="14.6" font-weight="normal" text-anchor="start" fill="#2a1e14" textLength="12.5" lengthAdjust="spacingAndGlyphs" stroke="#2a1e14" stroke-width="0.5">20</text>
<text x="366.5" y="792.0" font-size="14.6" font-weight="normal" text-anchor="start" fill="#2a1e14" textLength="12.5" lengthAdjust="spacingAndGlyphs" stroke="#2a1e14" stroke-width="0.5">30</text>
<text x="441.3" y="792.0" font-size="14.6" font-weight="normal" text-anchor="start" fill="#2a1e14" textLength="12.5" lengthAdjust="spacingAndGlyphs" stroke="#2a1e14" stroke-width="0.5">40</text>
<text x="516.0" y="792.0" font-size="14.6" font-weight="normal" text-anchor="start" fill="#2a1e14" textLength="12.5" lengthAdjust="spacingAndGlyphs" stroke="#2a1e14" stroke-width="0.5">50</text>
<text x="590.8" y="792.0" font-size="14.6" font-weight="normal" text-anchor="start" fill="#2a1e14" textLength="12.5" lengthAdjust="spacingAndGlyphs" stroke="#2a1e14" stroke-width="0.5">60</text>
<text x="629" y="791" font-size="13.5" font-weight="bold" fill="#2a1e14" textLength="26.5" lengthAdjust="spacingAndGlyphs">м<tspan font-size="8" dy="-6">3</tspan><tspan dy="6">/ч</tspan></text>
<text x="463.5" y="105.8" font-size="18.2" font-weight="normal" text-anchor="start" fill="#2a1e14" textLength="66.5" lengthAdjust="spacingAndGlyphs" stroke="#2a1e14" stroke-width="0.3">η = 78%</text>
<text x="291.8" y="348.2" font-size="13.4" font-weight="normal" text-anchor="start" fill="#2a1e14" textLength="13.5" lengthAdjust="spacingAndGlyphs" stroke="#2a1e14" stroke-width="0.45">50</text>
<text x="606.3" y="197.3" font-size="13.2" font-weight="bold" text-anchor="start" fill="#2a1e14" textLength="14" lengthAdjust="spacingAndGlyphs" stroke="#2a1e14" stroke-width="0.3">68</text>
</svg>
</body></html>
